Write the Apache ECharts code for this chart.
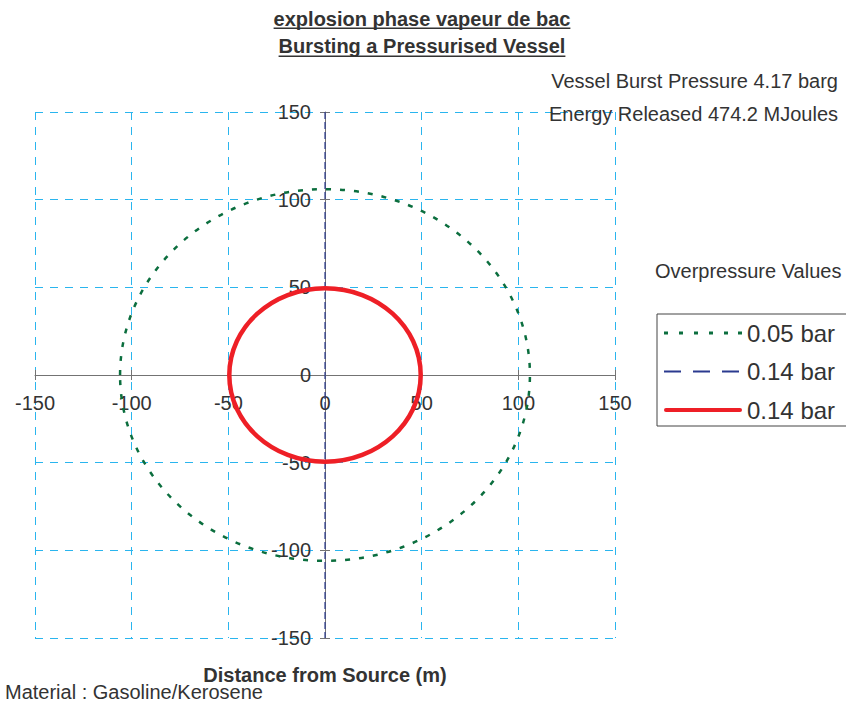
<!DOCTYPE html>
<html>
<head>
<meta charset="utf-8">
<script src="https://cdn.jsdelivr.net/npm/echarts@6/dist/echarts.min.js"></script>
<style>
  html, body { margin: 0; padding: 0; background: #ffffff; }
  #chart { width: 846px; height: 703px; }
</style>
</head>
<body>
<div id="chart"></div>
<script>
// ---- chart data ----
const titleLines = ['explosion phase vapeur de bac', 'Bursting a Pressurised Vessel'];
const infoLines = ['Vessel Burst Pressure 4.17 barg', 'Energy Released 474.2 MJoules'];
const xAxisTitle = 'Distance from Source (m)';
const materialNote = 'Material : Gasoline/Kerosene';
const legendTitle = 'Overpressure Values';

const axisMin = -150;
const axisMax = 150;
const axisStep = 50;
// tick positions that get a dashed grid line (both directions)
const gridTicks = [-150, -100, -50, 0, 50, 100, 150];

// overpressure contour labels
const contourLabels = ['0.05 bar', '0.14 bar', '0.14 bar'];
// 0.05 bar contour: [centre x, centre y, radius] in metres
const contourFar = [[0, 0, 106]];
// first 0.14 bar trace: [x, top y, bottom y]
const contourMidTrace = [[0, 150, -150]];
// second 0.14 bar contour: [centre x, centre y, radius]
const contourNear = [[0, 0, 49.5]];

// ---- styling ----
const fontFamily = '"Liberation Sans", Arial, Helvetica, sans-serif';
const textColor = '#333333';
const gridColor = '#2ab5ee';
const axisColor = '#737373';

const seriesStyles = [
  { stroke: '#0b6e3e', lineWidth: 2.5, lineDash: [5, 9] },
  { stroke: '#2b3a8f', lineWidth: 1.2, lineDash: [7, 3] },
  { stroke: '#ee1f26', lineWidth: 4.5, lineDash: null }
];

const seriesIds = ['far', 'midTrace', 'near'];

// plot area
const plotLeft = 35, plotRight = 231, plotTop = 112, plotBottom = 65;
const chartW = 846, chartH = 703;
const plotW = chartW - plotLeft - plotRight;
const plotH = chartH - plotTop - plotBottom;
// axes cross at the origin, in the middle of the symmetric range
const xCrossOffset = -plotH * (0 - axisMin) / (axisMax - axisMin);
const yCrossOffset = -plotW * (axisMax - 0) / (axisMax - axisMin);

function measure(text, font) {
  const ctx = document.createElement('canvas').getContext('2d');
  ctx.font = font;
  return ctx.measureText(text).width;
}

function crisp(v) {
  return Math.round(v - 0.5) + 0.5;
}

function ellipseRenderer(style) {
  return function (params, api) {
    const c = api.coord([api.value(0), api.value(1)]);
    const s = api.size([api.value(2), api.value(2)]);
    return {
      type: 'ellipse',
      shape: { cx: c[0], cy: c[1], rx: s[0], ry: s[1] },
      style: { fill: 'none', stroke: style.stroke, lineWidth: style.lineWidth, lineDash: style.lineDash },
      silent: true
    };
  };
}

function segmentRenderer(style) {
  return function (params, api) {
    const p1 = api.coord([api.value(0), api.value(1)]);
    const p2 = api.coord([api.value(0), api.value(2)]);
    return {
      type: 'line',
      shape: { x1: p1[0], y1: p1[1], x2: p2[0], y2: p2[1] },
      style: { stroke: style.stroke, lineWidth: style.lineWidth, lineDash: style.lineDash },
      silent: true
    };
  };
}

// dashed grid lines through one tick value, vertical and horizontal;
// the lines through the origin are the axes themselves
function gridLineRenderer(params, api) {
  const v = api.value(0);
  if (v === 0) return null;
  const a = api.coord([v, axisMax]);
  const b = api.coord([v, axisMin]);
  const c = api.coord([axisMin, v]);
  const d = api.coord([axisMax, v]);
  const st = { stroke: gridColor, lineWidth: 1, lineDash: [8, 7] };
  return {
    type: 'group',
    silent: true,
    children: [
      { type: 'line', shape: { x1: crisp(a[0]), y1: a[1], x2: crisp(b[0]), y2: b[1] }, style: st },
      { type: 'line', shape: { x1: c[0], y1: crisp(c[1]), x2: d[0], y2: crisp(d[1]) }, style: st }
    ]
  };
}

// legend sample icons (78 px wide)
const legendIcons = [
  'path://M0,0h4v3h-4zM15,0h4v3h-4zM30,0h4v3h-4zM45,0h4v3h-4zM60,0h4v3h-4zM74,0h4v3h-4z',
  'path://M0,0h17v2h-17zM29,0h17v2h-17zM58,0h17v2h-17zM77,0h1v0.01h-1z',
  'path://M2,0h74a2,2 0 0 1 0,4h-74a2,2 0 0 1 0,-4z'
];

const chart = echarts.init(document.getElementById('chart'), null, { renderer: 'svg' });

const titleFont = 'bold 20px ' + fontFamily;
const titleCenterX = 422;
const titleY = [19, 45.5];
const underlineY = [27.5, 55.5];

const graphicElements = [];
titleLines.forEach(function (t, i) {
  const w = measure(t, titleFont);
  graphicElements.push({
    type: 'text', x: titleCenterX, y: titleY[i], silent: true,
    style: { text: t, font: titleFont, fill: textColor, align: 'center', verticalAlign: 'middle', textAlign: 'center', textVerticalAlign: 'middle' }
  });
  graphicElements.push({
    type: 'rect', silent: true,
    shape: { x: titleCenterX - w / 2, y: underlineY[i], width: w, height: 1.5 },
    style: { fill: textColor }
  });
});

const plainFont = '20px ' + fontFamily;
[[infoLines[0], 838, 81, 'right'], [infoLines[1], 838, 114, 'right'],
 [legendTitle, 655, 271, 'left'], [materialNote, 5, 692, 'left']].forEach(function (d) {
  graphicElements.push({
    type: 'text', x: d[1], y: d[2], silent: true,
    style: { text: d[0], font: plainFont, fill: textColor, align: d[3], verticalAlign: 'middle', textAlign: d[3], textVerticalAlign: 'middle' }
  });
});
graphicElements.push({
  type: 'text', x: 325, y: 675, silent: true,
  style: { text: xAxisTitle, font: 'bold 20px ' + fontFamily, fill: textColor, align: 'center', verticalAlign: 'middle', textAlign: 'center', textVerticalAlign: 'middle' }
});

const baseAxis = {
  type: 'value',
  min: axisMin,
  max: axisMax,
  interval: axisStep
};

// axis that only carries the opposite half of each tick mark
function halfTickAxis(position, offset) {
  return Object.assign({}, baseAxis, {
    position: position,
    offset: offset,
    axisLine: { show: false, onZero: false },
    axisTick: { show: true, inside: false, length: 5, lineStyle: { color: axisColor } },
    axisLabel: { show: false },
    splitLine: { show: false }
  });
}

const option = {
  animation: false,
  backgroundColor: '#ffffff',
  grid: { left: plotLeft, right: plotRight, top: plotTop, bottom: plotBottom, containLabel: false, outerBoundsMode: 'none' },
  xAxis: [
    Object.assign({}, baseAxis, {
      position: 'bottom',
      offset: xCrossOffset,
      axisLine: { show: true, onZero: false, lineStyle: { color: axisColor, width: 1 } },
      axisTick: { show: true, inside: false, length: 5, lineStyle: { color: axisColor } },
      axisLabel: { show: true, margin: 18, fontSize: 20, color: textColor, fontFamily: fontFamily },
      splitLine: { show: false }
    }),
    halfTickAxis('top', xCrossOffset)
  ],
  yAxis: [
    Object.assign({}, baseAxis, {
      position: 'left',
      offset: yCrossOffset,
      axisLine: { show: true, onZero: false, lineStyle: { color: axisColor, width: 1 } },
      axisTick: { show: true, inside: false, length: 5, lineStyle: { color: axisColor } },
      axisLabel: { show: true, margin: 14, fontSize: 20, color: textColor, fontFamily: fontFamily },
      splitLine: { show: false }
    }),
    halfTickAxis('right', yCrossOffset)
  ],
  legend: {
    orient: 'vertical',
    left: 657,
    top: 314,
    padding: [7, 14, 4, 7],
    borderColor: '#444444',
    borderWidth: 1,
    itemWidth: 78,
    itemHeight: 5,
    itemGap: 14.5,
    selectedMode: false,
    symbolKeepAspect: true,
    textStyle: { fontSize: 24, color: textColor, fontFamily: fontFamily },
    formatter: function (name) { return contourLabels[seriesIds.indexOf(name)]; },
    data: seriesIds.map(function (id, i) {
      return { name: id, icon: legendIcons[i], itemStyle: { color: seriesStyles[i].stroke, borderWidth: 0 } };
    })
  },
  graphic: graphicElements,
  series: [
    {
      type: 'custom', name: 'grid', xAxisIndex: 0, yAxisIndex: 0,
      encode: { x: 0, y: 1 },
      data: gridTicks.map(function (v) { return [v, v]; }),
      renderItem: gridLineRenderer, z: -1
    },
    {
      type: 'custom', name: seriesIds[0], xAxisIndex: 0, yAxisIndex: 0,
      itemStyle: { color: seriesStyles[0].stroke },
      encode: { x: 0, y: 1 }, data: contourFar,
      renderItem: ellipseRenderer(seriesStyles[0]), z: 3
    },
    {
      type: 'custom', name: seriesIds[1], xAxisIndex: 0, yAxisIndex: 0,
      itemStyle: { color: seriesStyles[1].stroke },
      encode: { x: 0, y: [1, 2] }, data: contourMidTrace,
      renderItem: segmentRenderer(seriesStyles[1]), z: 3
    },
    {
      type: 'custom', name: seriesIds[2], xAxisIndex: 0, yAxisIndex: 0,
      itemStyle: { color: seriesStyles[2].stroke },
      encode: { x: 0, y: 1 }, data: contourNear,
      renderItem: ellipseRenderer(seriesStyles[2]), z: 4
    }
  ]
};

chart.setOption(option);
</script>
</body>
</html>
